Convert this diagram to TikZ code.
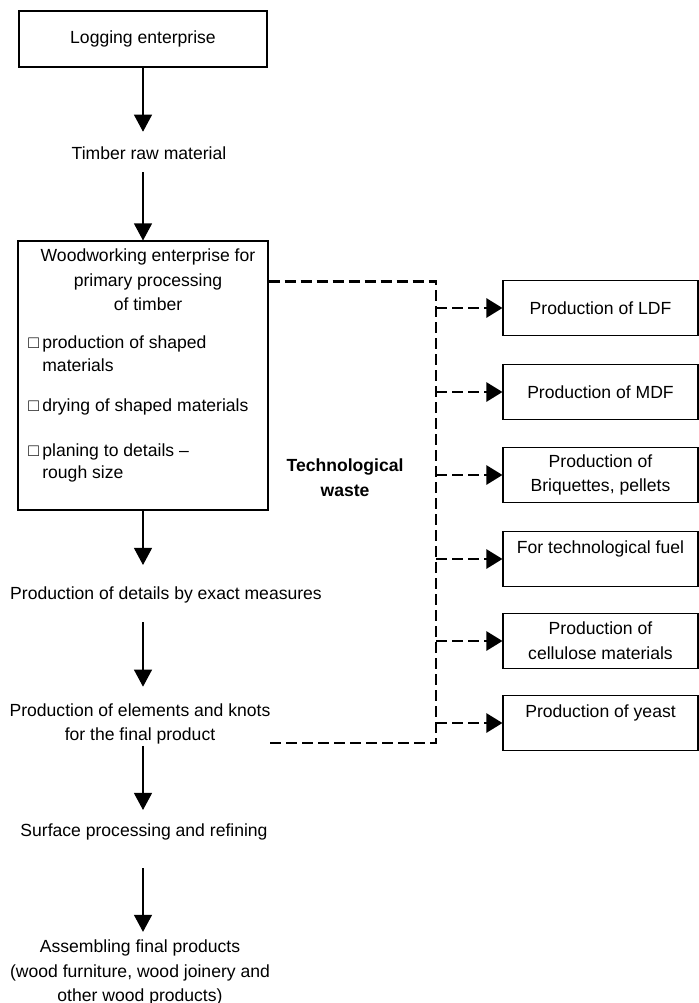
\documentclass[tikz,border=0pt]{standalone}
\usepackage{fontspec}
\setmainfont{Liberation Sans}
\usetikzlibrary{arrows.meta}
\newcommand{\boxmark}{\makebox[0.28cm][l]{□}}
\newcommand{\boxgap}{\hspace*{0.28cm}}
\tikzset{
  stage/.style = {
    rectangle, draw=black, line width=0.6pt,
    minimum width=4.96cm, minimum height=1.12cm, align=center
  },
  outlet/.style = {
    rectangle, draw=black, line width=0.6pt,
    minimum width=3.9cm, minimum height=1.1cm, align=center, inner sep=1pt
  },
  phase/.style = { align=center, inner sep=0pt },
  substep/.style = {
    align=left, inner sep=0pt, anchor=west,
    font=\fontsize{10}{13}\selectfont
  },
  flow/.style = {
    draw=black, line width=0.6pt,
    -{Triangle[length=0.34cm, width=0.36cm]}
  },
  waste/.style = {
    draw=black, line width=1.4pt, dash pattern=on 0.22cm off 0.1cm
  }
}

\begin{document}
\begin{tikzpicture}[font=\fontsize{10}{14}\selectfont]

    \useasboundingbox (0,0) rectangle (13.98,-20.06);

    % ------------------------------------------------------ Main chain
    \node [stage] (logging) at (2.86, -0.78) {Logging enterprise};
    \node [phase] (timber)  at (2.98, -3.07) {Timber raw material};
    \node [stage, minimum width=5.0cm, minimum height=5.38cm]
          (wood) at (2.86, -7.51) {};
    \node [phase] (details)  at (3.32, -11.89) {Production of details by exact measures};
    \node [phase] (elements) at (2.80, -14.48)
          {Production of elements and knots\\for the final product};
    \node [phase] (surface)  at (2.88, -16.63) {Surface processing and refining};
    \node [phase] (assembly) at (2.80, -19.45)
          {Assembling final products\\(wood furniture, wood joinery and\\other wood products)};

    % ------------------------------------------- Primary processing box
    \node [phase] (woodhead) at (2.96, -5.60)
          {Woodworking enterprise for\\primary processing\\of timber};
    \node [substep] (shaping)  at (0.56, -7.07)
          {\boxmark production of shaped\\\boxgap materials};
    \node [substep] (drying)   at (0.56, -8.14)
          {\boxmark drying of shaped materials};
    \node [substep] (planing)  at (0.56, -9.26)
          {\boxmark planing to details --\\\boxgap rough size};

    % -------------------------------------------------- Waste outlets
    \node [phase, font=\fontsize{10}{14}\selectfont\bfseries]
          (wastelbl) at (6.90, -9.55) {Technological\\waste};
    \node [outlet] (ldf)   at (12.01,  -6.16) {Production of LDF};
    \node [outlet] (mdf)   at (12.01,  -7.84) {Production of MDF};
    \node [outlet] (briq)  at (12.01,  -9.50) {Production of\\Briquettes, pellets};
    \node [outlet] (fuel)  at (12.01, -11.18) {For technological fuel\\\mbox{}};
    \node [outlet] (cell)  at (12.01, -12.82) {Production of\\cellulose materials};
    \node [outlet] (yeast) at (12.01, -14.46) {Production of yeast\\\mbox{}};

    \coordinate (busbot)   at (8.72, -14.86);
    \coordinate (wasteout) at (5.36, -14.86);

    % ---------------------------------------------------- Chain arrows
    \draw [flow, shorten >=0.30cm] (logging.south) -- (logging.south |- timber.north);
    \draw [flow, shorten <=0.24cm] (wood.north |- timber.south) -- (wood.north);
    \draw [flow, shorten >=0.42cm] (wood.south) -- (wood.south |- details.north);
    \draw [flow, shorten <=0.38cm, shorten >=0.33cm]
          (wood.south |- details.south) -- (wood.south |- elements.north);
    \draw [flow, shorten <=0.02cm, shorten >=0.26cm]
          (wood.south |- elements.south) -- (wood.south |- surface.north);
    \draw [flow, shorten <=0.56cm, shorten >=0.15cm]
          (wood.south |- surface.south) -- (wood.south |- assembly.north);

    % ------------------------------------------------------ Waste bus
    \draw [waste] ([yshift=-0.82cm]wood.north east) -| (busbot) -- (wasteout);

    \draw [waste, -{Triangle[length=0.32cm, width=0.38cm]}] (ldf.west -| busbot)   -- (ldf.west);
    \draw [waste, -{Triangle[length=0.32cm, width=0.38cm]}] (mdf.west -| busbot)   -- (mdf.west);
    \draw [waste, -{Triangle[length=0.32cm, width=0.38cm]}] (briq.west -| busbot)  -- (briq.west);
    \draw [waste, -{Triangle[length=0.32cm, width=0.38cm]}] (fuel.west -| busbot)  -- (fuel.west);
    \draw [waste, -{Triangle[length=0.32cm, width=0.38cm]}] (cell.west -| busbot)  -- (cell.west);
    \draw [waste, -{Triangle[length=0.32cm, width=0.38cm]}] (yeast.west -| busbot) -- (yeast.west);

\end{tikzpicture}
\end{document}
